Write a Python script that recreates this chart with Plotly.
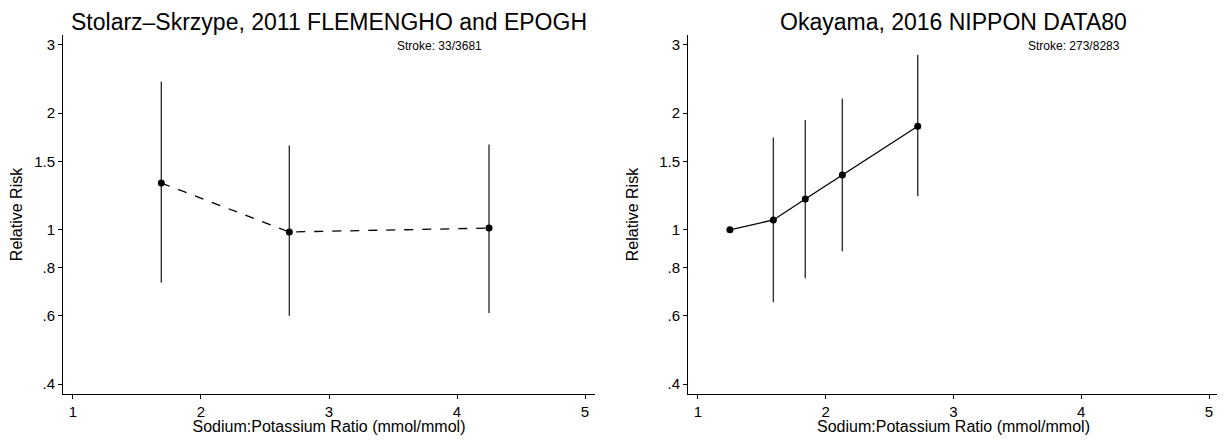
import math
import plotly.graph_objects as go

# ---- data ----
left_title = "Stolarz\u2013Skrzype, 2011 FLEMENGHO and EPOGH"
left_note = "Stroke: 33/3681"
left_x = [1.69, 2.69, 4.25]
left_rr = [1.32, 0.987, 1.01]
left_lo = [0.73, 0.60, 0.61]
left_hi = [2.41, 1.65, 1.66]

right_title = "Okayama, 2016 NIPPON DATA80"
right_note = "Stroke: 273/8283"
right_x = [1.25, 1.59, 1.84, 2.13, 2.72]
right_rr = [1.00, 1.06, 1.20, 1.385, 1.85]
right_lo = [1.00, 0.65, 0.75, 0.88, 1.22]
right_hi = [1.00, 1.73, 1.92, 2.18, 2.83]

y_tickvals = [0.4, 0.6, 0.8, 1, 1.5, 2, 3]
y_ticktext = [".4", ".6", ".8", "1", "1.5", "2", "3"]
x_tickvals = [1, 2, 3, 4, 5]

x_label = "Sodium:Potassium Ratio (mmol/mmol)"
y_label = "Relative Risk"

FONT = "Liberation Sans, Arial, Helvetica, sans-serif"
# page body has an 8px margin; size the figure so it fits the 1225x443 window
OFF = 8
W, H = 1225 - OFF, 443 - 2 * OFF


def px_x(p):
    return (p - OFF) / W


def px_y(p):
    return (H - (p - OFF)) / H


fig = go.Figure()


def add_panel(xs, rr, lo, hi, dash, xa, ya):
    up = [h - r for h, r in zip(hi, rr)]
    dn = [r - l for r, l in zip(rr, lo)]
    fig.add_trace(go.Scatter(
        x=xs, y=rr, mode="lines+markers",
        line=dict(color="black", width=1.3, dash=dash),
        marker=dict(color="black", size=7),
        error_y=dict(type="data", symmetric=False, array=up, arrayminus=dn,
                     color="#333333", thickness=1.4, width=0),
        xaxis=xa, yaxis=ya, showlegend=False,
    ))


add_panel(left_x, left_rr, left_lo, left_hi, "dash", "x", "y")
add_panel(right_x, right_rr, right_lo, right_hi, "solid", "x2", "y2")

y_range = [math.log10(0.377), math.log10(3.18)]
x_range = [0.922, 5.078]

ydom = [px_y(394), px_y(35)]
xdom1 = [px_x(63), px_x(595)]
xdom2 = [px_x(688), min(1.0, px_x(1219))]

axis_common = dict(
    showline=True, linecolor="black", linewidth=1,
    ticks="outside", ticklen=4, tickcolor="black", tickwidth=1,
    showgrid=False, zeroline=False,
    tickfont=dict(family=FONT, size=15, color="black"),
)
xtitle = dict(text=x_label, font=dict(family=FONT, size=16), standoff=3)
ytitle = dict(text=y_label, font=dict(family=FONT, size=16), standoff=16)

title_common = dict(xref="paper", yref="paper", xanchor="center", yanchor="middle",
                    showarrow=False, borderpad=0, borderwidth=0,
                    font=dict(family=FONT, size=23, color="black"))
note_common = dict(xref="paper", yref="paper", xanchor="right", yanchor="middle",
                   showarrow=False, font=dict(family=FONT, size=12, color="black"))

fig.update_layout(
    width=W, height=H,
    margin=dict(l=0, r=0, t=0, b=0),
    paper_bgcolor="white", plot_bgcolor="white",
    font=dict(family=FONT, color="black"),
    xaxis=dict(domain=xdom1, range=x_range, tickvals=x_tickvals, anchor="y",
               title=xtitle, **axis_common),
    yaxis=dict(domain=ydom, type="log", range=y_range, tickvals=y_tickvals,
               ticktext=y_ticktext, anchor="x", title=ytitle, **axis_common),
    xaxis2=dict(domain=xdom2, range=x_range, tickvals=x_tickvals, anchor="y2",
                title=xtitle, **axis_common),
    yaxis2=dict(domain=ydom, type="log", range=y_range, tickvals=y_tickvals,
                ticktext=y_ticktext, anchor="x2", title=ytitle, **axis_common),
    annotations=[
        dict(text=left_title, x=(xdom1[0] + xdom1[1]) / 2, y=px_y(22), **title_common),
        dict(text=right_title, x=(xdom2[0] + xdom2[1]) / 2, y=px_y(22), **title_common),
        dict(text=left_note, x=px_x(484), y=px_y(46), **note_common),
        dict(text=right_note, x=px_x(1122), y=px_y(46), **note_common),
    ],
)

fig.write_html("out.html")
